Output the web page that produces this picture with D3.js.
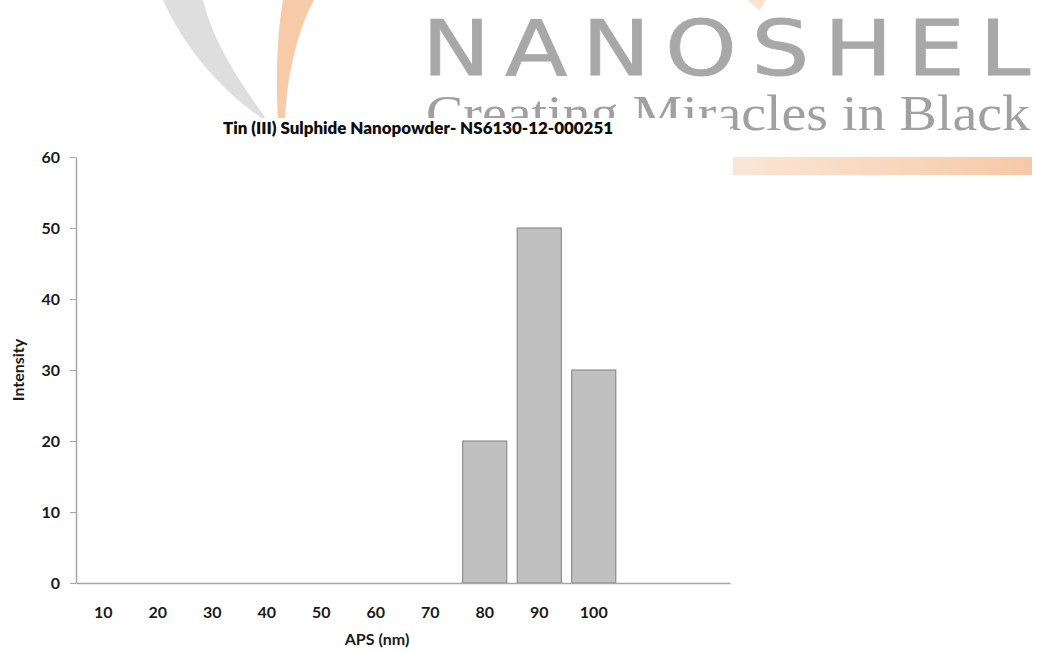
<!DOCTYPE html>
<html>
<head>
<meta charset="utf-8">
<script src="https://cdn.jsdelivr.net/npm/d3@7"></script>
<style>
  html, body { margin: 0; padding: 0; background: #fff; }
  svg { display: block; }
</style>
</head>
<body>
<svg id="chart" width="1037" height="651"></svg>
<script>
// ---- data ----
const categories = ["10", "20", "30", "40", "50", "60", "70", "80", "90", "100"];
const intensity  = [0, 0, 0, 0, 0, 0, 0, 20, 50, 30];
const yTicks     = [0, 10, 20, 30, 40, 50, 60];
const emptySlots = 2; // blank slots after 100 on the category axis
const title      = "Tin (III) Sulphide Nanopowder- NS6130-12-000251";
const xTitle     = "APS (nm)";
const yTitle     = "Intensity";
const brandName  = "NANOSHEL";
const brandTag   = "Creating Miracles in Black";

const svg = d3.select("#chart");
const W = 1037, H = 651;

// ---- watermark / logo background ----
const defs = svg.append("defs");
const g1 = defs.append("linearGradient").attr("id", "barGrad").attr("x1", "0").attr("x2", "1");
g1.append("stop").attr("offset", "0").attr("stop-color", "#fbe6d6");
g1.append("stop").attr("offset", "1").attr("stop-color", "#f6c9a6");
defs.append("clipPath").attr("id", "tagClip")
  .append("path").attr("d", "M0,0 H1037 V651 H730 V118 H0 Z");

const logo = svg.append("g");
// grey swoosh
logo.append("path")
  .attr("d", "M163,0 C185,50 225,95 268,122 C250,95 215,50 203,0 Z")
  .attr("fill", "#dedede");
// orange swoosh
logo.append("path")
  .attr("d", "M283,0 C276,40 276,85 278,122 L285,122 C286,85 295,35 314,0 Z")
  .attr("fill", "#f7cba8");
// small orange fragment at top
logo.append("path")
  .attr("d", "M748,0 C752,4 756,7 760,10 C762,6 764,3 766,0 Z")
  .attr("fill", "#fbe2cf");

logo.append("text")
  .attr("transform", "translate(422,75) scale(1.2,1)")
  .attr("x", 0).attr("y", 0)
  .attr("textLength", 507).attr("lengthAdjust", "spacing")
  .attr("font-family", "'DejaVu Sans', sans-serif")
  .attr("font-weight", 400)
  .attr("font-size", 76)
  .attr("fill", "#a8a8a8")
  .attr("stroke", "#a8a8a8").attr("stroke-width", 0.8)
  .text(brandName);

logo.append("text")
  .attr("clip-path", "url(#tagClip)")
  .attr("x", 426).attr("y", 130)
  .attr("textLength", 604).attr("lengthAdjust", "spacingAndGlyphs")
  .attr("font-family", "'Liberation Serif', 'DejaVu Serif', serif")
  .attr("font-size", 50)
  .attr("fill", "#a0a0a0")
  .text(brandTag);

logo.append("rect")
  .attr("x", 733).attr("y", 157).attr("width", 299).attr("height", 18)
  .attr("fill", "url(#barGrad)");

// white chart area covering the watermark
svg.append("rect")
  .attr("x", 0).attr("y", 118).attr("width", 730).attr("height", H - 118)
  .attr("fill", "#ffffff");

// ---- chart ----
const plot = { left: 76, right: 730, top: 157, bottom: 583 };

const slots = categories.concat(d3.range(emptySlots).map(i => "__blank" + i));
const x = d3.scaleBand()
  .domain(slots)
  .range([plot.left, plot.right])
  .paddingInner(0.19)
  .paddingOuter(0.095);

const y = d3.scaleLinear()
  .domain([0, 60])
  .range([plot.bottom, plot.top]);

const axisColor = "#a6a6a6";
const labelFont = "Lato, 'Open Sans', sans-serif";

// bars
svg.append("g")
  .selectAll("rect")
  .data(categories.map((c, i) => ({ c, v: intensity[i] })).filter(d => d.v > 0))
  .join("rect")
  .attr("x", d => x(d.c))
  .attr("y", d => y(d.v))
  .attr("width", x.bandwidth())
  .attr("height", d => y(0) - y(d.v))
  .attr("fill", "#c0c0c0")
  .attr("stroke", "#7f7f7f")
  .attr("stroke-width", 1);

// y axis
const yAxis = svg.append("g")
  .attr("transform", `translate(${plot.left},0)`)
  .call(d3.axisLeft(y).tickValues(yTicks).tickSize(6).tickPadding(10).tickSizeOuter(0));
yAxis.select(".domain").attr("stroke", axisColor).attr("stroke-width", 1.5);
yAxis.selectAll(".tick line").attr("stroke", axisColor).attr("stroke-width", 1);
yAxis.selectAll(".tick text")
  .attr("font-family", labelFont).attr("font-weight", 700)
  .attr("font-size", 16).attr("fill", "#1a1a1a");

// x axis
const xAxis = svg.append("g")
  .attr("transform", `translate(0,${plot.bottom})`)
  .call(d3.axisBottom(x).tickSize(0).tickPadding(24).tickSizeOuter(0)
    .tickFormat(d => categories.includes(d) ? d : ""));
xAxis.select(".domain").attr("stroke", axisColor).attr("stroke-width", 1.5);
xAxis.selectAll(".tick text")
  .attr("font-family", labelFont).attr("font-weight", 700)
  .attr("font-size", 16).attr("fill", "#1a1a1a");

// title
svg.append("text")
  .attr("x", 418).attr("y", 134)
  .attr("text-anchor", "middle")
  .attr("textLength", 390).attr("lengthAdjust", "spacingAndGlyphs")
  .attr("font-family", labelFont).attr("font-weight", 800)
  .attr("font-size", 17).attr("fill", "#0d0d0d")
  .text(title);

// axis titles
svg.append("text")
  .attr("x", 377).attr("y", 645)
  .attr("text-anchor", "middle")
  .attr("font-family", labelFont).attr("font-weight", 700)
  .attr("font-size", 16).attr("fill", "#1a1a1a")
  .text(xTitle);

svg.append("text")
  .attr("transform", `translate(24,${(plot.top + plot.bottom) / 2}) rotate(-90)`)
  .attr("text-anchor", "middle")
  .attr("font-family", labelFont).attr("font-weight", 700)
  .attr("font-size", 16).attr("fill", "#1a1a1a")
  .text(yTitle);
</script>
</body>
</html>
